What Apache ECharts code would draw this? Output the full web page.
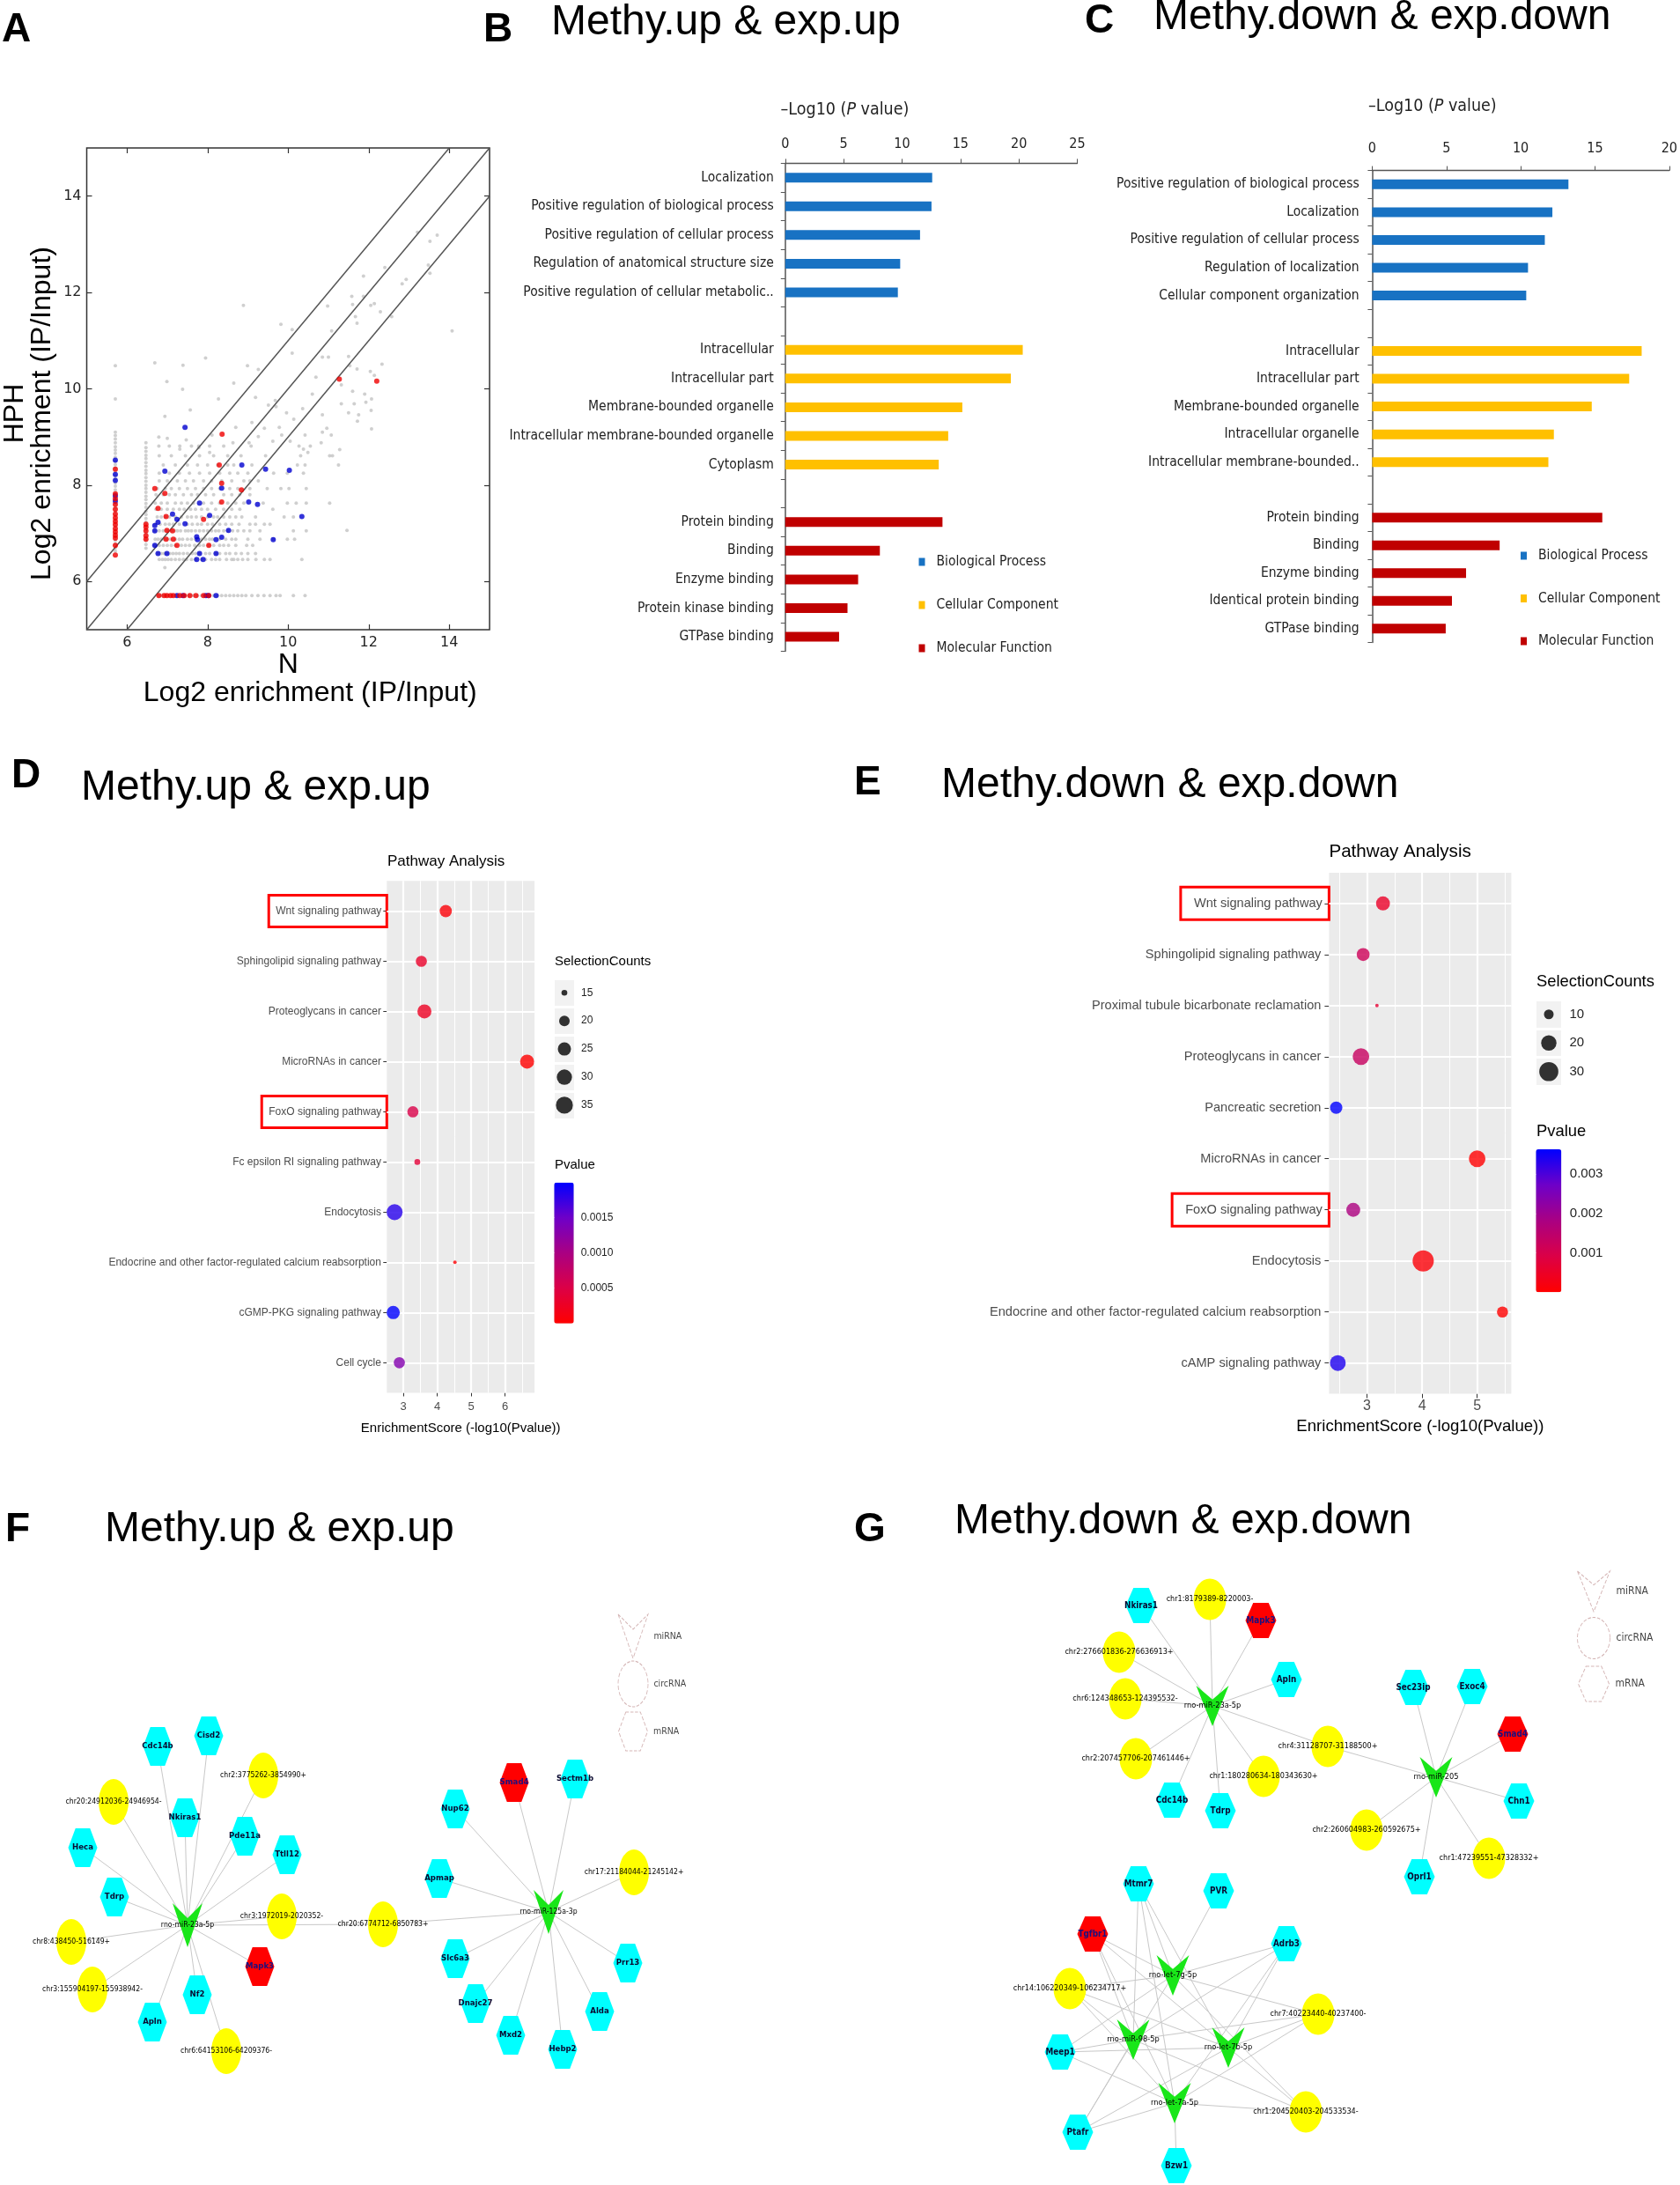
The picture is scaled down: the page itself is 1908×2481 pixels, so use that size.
<!DOCTYPE html>
<html>
<head>
<meta charset="utf-8">
<title>Figure</title>
<script src="https://cdn.jsdelivr.net/npm/echarts@6.0.0/dist/echarts.min.js"></script>
<style>
html,body{margin:0;padding:0;background:#ffffff;}
#chart{width:1908px;height:2481px;}
</style>
</head>
<body>
<div id="chart"></div>
<script>
// ================= DATA =================
// ---- Panel A: log2 enrichment, N (x) vs HPH (y) ----
const aTicks = [6, 8, 10, 12, 14];
const aColumnX = [5.71, 6.47];      // x of the two vertical stacks of points
const aFloorY = 5.71;               // y of the bottom row of points
const aGreyColumn1 = [6.63,6.7,6.78,6.85,6.93,7.0,7.08,7.16,7.23,7.3,7.38,7.46,7.53,7.6,7.68,7.76,7.83,7.9,7.98,8.05,8.13,8.2,8.28,8.36,8.43,8.5,8.58,8.66,8.73,8.8,8.88,8.96,9.03,9.1,9.79,10.48];
const aGreyColumn2 = [6.69,6.77,6.85,6.92,7.0,7.08,7.15,7.23,7.31,7.39,7.46,7.54,7.62,7.7,7.77,7.85,7.93,8.0,8.08,8.16,8.24,8.31,8.39,8.47,8.55,8.62,8.7,8.78,8.88];
const aGreyFloor = [6.78,6.85,6.92,7.0,7.08,7.15,7.25,7.35,7.45,7.55,7.65,7.75,7.85,7.95,8.05,8.15,8.25,8.35,8.45,8.55,8.65,8.75,8.85,8.95,9.1,9.25,9.4,9.55,9.7,9.8,10.13,10.42];
const aGreyRows = [
  [6.46, [6.8,6.88,6.95,7.02,7.1,7.2,7.3,7.4,7.48,7.6,7.7,7.85,7.95,8.1,8.2,8.3,8.47,8.6,8.65,8.75,8.87,9.0,9.2,9.41,9.55,10.34]],
  [6.58, [6.77,6.85,6.92,6.99,7.06,7.14,7.22,7.3,7.4,7.5,7.62,7.7,7.8,7.95,8.05,8.21,8.3,8.45,8.55,8.7,8.84,9.0,9.19]],
  [6.75, [6.7,6.8,6.9,7.0,7.1,7.2,7.35,7.45,7.55,7.68,7.8,7.9,8.03,8.15,8.3,8.4,8.52,8.7,8.97,9.12]],
  [6.88, [6.7,6.77,6.85,6.92,7.0,7.08,7.2,7.3,7.38,7.5,7.6,7.7,7.85,7.95,8.05,8.12,8.3,8.45,8.6,8.7,9.0,9.3,9.63,9.98,10.16]],
  [7.05, [6.7,6.8,6.9,7.0,7.1,7.18,7.25,7.33,7.45,7.52,7.6,7.7,7.8,7.9,8.0,8.1,8.2,8.28,8.4,8.5,8.62,8.75,8.9,9.05,9.3,10.13,10.45]],
  [7.19, [6.7,6.82,6.95,7.05,7.15,7.3,7.5,7.62,7.75,7.85,8.0,8.12,8.3,8.45,8.6,8.78,9.05,9.19,9.41,9.55]],
  [7.34, [6.75,6.85,6.95,7.05,7.2,7.35,7.5,7.6,7.72,7.85,8.0,8.15,8.25,8.4,8.55,8.7,8.85,9.19,9.9,10.13]],
  [7.5,  [6.72,6.85,7.0,7.15,7.3,7.42,7.58,7.7,7.85,8.0,8.2,8.4,8.6,8.8,9.62]],
  [7.63, [6.7,6.85,7.0,7.2,7.35,7.5,7.65,7.9,8.1,8.3,8.5,8.7,8.9,9.38,9.98,10.2,10.45,11.03]],
  [7.8,  [6.72,6.9,7.05,7.2,7.4,7.6,7.75,7.95,8.15,8.4,8.6,8.8,9.05]],
  [7.93, [6.75,6.95,7.1,7.3,7.5,7.7,7.9,8.1,8.3,8.55,8.75,9.05,9.48,9.82,10.02,10.45]],
  [8.09, [6.8,7.0,7.25,7.45,7.65,7.9,8.1,8.35,8.6,8.9,9.05,9.26]],
  [8.25, [6.8,7.05,7.3,7.55,7.8,8.05,8.3,8.55,8.75,9.0,9.64,9.98,10.38]],
  [8.42, [6.9,7.2,7.5,7.75,8.0,8.25,8.5,8.65,9.1,10.23,10.42,11.25]],
  [8.61, [6.8,7.1,7.45,7.8,8.15,8.5,8.83,9.44,10.31,11.03,11.1]],
  [8.81, [6.79,7.05,7.31,7.6,7.78,8.05,8.4,9.08,10.27,10.55]]
];
const aGreyScattered = [[6.79,9.0],[7.0,8.97],[7.47,8.94],[8.11,9.04],[8.63,8.88],[9.03,8.88],[9.26,9.01],[9.62,8.91],[9.84,9.04],[10.05,8.91],[10.38,8.75],[10.49,8.68],[10.82,8.88],[11.28,8.74],[10.42,9.04],[10.85,9.1],[10.96,9.18],[11.07,9.04],[9.41,9.18],[8.7,9.2],[9.1,9.3],[9.78,9.2],[10.14,9.37],[9.96,9.5],[9.7,9.63],[9.51,9.66],[9.68,9.76],[9.19,9.82],[8.27,9.79],[7.57,9.56],[6.94,9.43],[7.38,9.99],[6.99,10.15],[8.65,10.12],[10.36,9.59],[10.6,9.89],[10.69,10.24],[10.85,9.46],[11.32,9.69],[11.5,9.5],[11.72,9.33],[11.9,9.89],[11.93,9.72],[12.07,9.79],[12.06,9.55],[11.64,9.69],[11.75,9.46],[12.07,9.17],[11.6,9.95],[11.32,10.08],[11.53,10.48],[10.1,10.74],[10.85,10.66],[11.0,10.66],[11.5,10.67],[11.71,10.41],[12.04,10.36],[12.33,10.51],[12.14,10.28],[7.95,10.64],[8.99,10.48],[9.26,10.4],[6.69,10.54],[7.39,10.49],[8.89,11.73],[9.82,11.34],[10.1,11.23],[10.98,11.72],[11.08,11.2],[11.58,11.92],[11.71,11.36],[11.67,11.5],[11.6,11.75],[11.87,11.92],[11.87,12.34],[12.05,11.73],[12.14,11.77],[12.29,11.6],[12.57,11.5],[12.4,12.52],[12.83,12.18],[12.93,12.27],[13.21,13.25],[13.48,12.57],[13.52,12.4],[13.52,13.06],[13.7,13.19],[14.07,11.2],[11.46,7.06],[6.94,6.29],[8.05,8.68],[7.78,8.78],[7.31,8.75]];
const aRedColumn1 = [8.33,7.82,7.72,7.6,7.5,7.4,7.32,7.25,7.18,7.1,7.03,6.96,6.9,6.75,6.55];
const aRedColumn2 = [7.19,7.13,7.05,6.95,6.88];
const aRedFloor = [6.79,6.92,6.99,7.08,7.15,7.31,7.42,7.56,7.71,7.9,8.03];
const aRedOther = [[6.69,7.93],[6.94,7.83],[6.77,7.52],[6.97,7.35],[6.99,7.06],[6.97,6.88],[7.13,7.05],[7.15,6.88],[7.24,6.75],[8.29,8.42],[8.36,9.06],[8.35,8.04],[8.35,7.65],[7.9,7.29],[8.03,6.75],[8.84,7.9],[11.27,10.2],[12.2,10.16]];
const aBlueColumn1 = [8.52,8.22,8.1,7.78,7.67];
const aBlueFloor = [7.24,7.39,7.96,8.02,8.21];
const aBlueOther = [[7.44,9.2],[6.94,8.29],[8.85,8.42],[9.44,8.33],[10.03,8.31],[8.35,7.94],[7.8,7.63],[9.02,7.65],[9.24,7.6],[7.13,7.4],[8.05,7.37],[7.24,7.29],[7.44,7.2],[10.34,7.35],[8.52,7.06],[6.77,7.23],[6.69,7.16],[6.69,7.05],[7.73,6.93],[7.75,6.87],[8.21,6.87],[8.35,6.92],[9.63,6.87],[6.69,6.75],[6.77,6.58],[6.99,6.58],[8.21,6.58],[7.8,6.58],[7.73,6.46],[7.89,6.46]];
const aRefLines = [[[5, 6], [14, 15]], [[5, 5], [15, 15]], [[6, 5], [15, 14]]];

// ---- Panels B / C: GO enrichment ----
const GO_GROUPS = ['Biological Process', 'Cellular Component', 'Molecular Function'];
const bCats = ['Localization','Positive regulation of biological process','Positive regulation of cellular process','Regulation of anatomical structure size','Positive regulation of cellular metabolic..',' ','Intracellular','Intracellular part','Membrane-bounded organelle','Intracellular membrane-bounded organelle','Cytoplasm','  ','Protein binding','Binding','Enzyme binding','Protein kinase binding','GTPase binding'];
const bBP = [12.58, 12.52, 11.54, 9.84, 9.64];
const bCC = [20.33, 19.31, 15.16, 13.95, 13.14];
const bMF = [13.46, 8.1, 6.24, 5.33, 4.61];
const cCats = ['Positive regulation of biological process','Localization','Positive regulation of cellular process','Regulation of localization','Cellular component organization',' ','Intracellular','Intracellular part','Membrane-bounded organelle','Intracellular organelle','Intracellular membrane-bounded..','  ','Protein binding','Binding','Enzyme binding','Identical protein binding','GTPase binding'];
const cBP = [13.21, 12.13, 11.62, 10.49, 10.37];
const cCC = [18.14, 17.3, 14.78, 12.23, 11.86];
const cMF = [15.49, 8.58, 6.32, 5.37, 4.95];

// ---- Panels D / E: KEGG pathway bubble plots ----
const dPaths = ['Wnt signaling pathway','Sphingolipid signaling pathway','Proteoglycans in cancer','MicroRNAs in cancer','FoxO signaling pathway','Fc epsilon RI signaling pathway','Endocytosis','Endocrine and other factor-regulated calcium reabsorption','cGMP-PKG signaling pathway','Cell cycle'];
const dScore = [4.25, 3.53, 3.62, 6.65, 3.28, 3.41, 2.74, 4.52, 2.70, 2.88];
const dCount = [23, 21, 27, 27, 21, 15, 32, 14, 25, 21];
const dSizeBreaks = [15, 20, 25, 30, 35];
const dPBreaks = [0.0005, 0.001, 0.0015];
const dXTicks = [3, 4, 5, 6];
const dXMinor = [3.5, 4.5, 5.5, 6.5];
const ePaths = ['Wnt signaling pathway','Sphingolipid signaling pathway','Proximal tubule bicarbonate reclamation','Proteoglycans in cancer','Pancreatic secretion','MicroRNAs in cancer','FoxO signaling pathway','Endocytosis','Endocrine and other factor-regulated calcium reabsorption','cAMP signaling pathway'];
const eScore = [3.29, 2.93, 3.18, 2.89, 2.44, 5.0, 2.75, 4.02, 5.46, 2.47];
const eCount = [17, 15, 6, 23, 14, 23, 17, 37, 12, 21];
const eSizeBreaks = [10, 20, 30];
const ePBreaks = [0.001, 0.002, 0.003];
const eXTicks = [3, 4, 5];
const eXMinor = [2.5, 3.5, 4.5, 5.5];
const boxedPaths = ['Wnt signaling pathway', 'FoxO signaling pathway'];

// ---- Panels F / G: miRNA–circRNA–mRNA networks (layout coordinates) ----
// [name, type, x, y]  type: mi = miRNA, circ = circRNA, m = mRNA, mh = highlighted mRNA
const fNodes = [
  ['rno-miR-23a-5p','mi',173,386], ['rno-miR-125a-3p','mi',583,371],
  ['Cdc14b','m',139,183], ['Cisd2','m',197,171], ['chr2:3775262-3854990+','circ',259,216],
  ['chr20:24912036-24946954-','circ',89,246], ['Nkiras1','m',170,264], ['Pde11a','m',238,285],
  ['Ttll12','m',286,306], ['Heca','m',54,298], ['Tdrp','m',90,354], ['chr3:1972019-2020352-','circ',280,376],
  ['chr8:438450-516149+','circ',41,405], ['chr3:155904197-155938942-','circ',65,459], ['Mapk3','mh',255,433],
  ['Nf2','m',184,465], ['Apln','m',133,496], ['chr6:64153106-64209376-','circ',217,529],
  ['chr20:6774712-6850783+','circ',395,385],
  ['Smad4','mh',544,224], ['Sectm1b','m',613,220], ['Nup62','m',477,254], ['Apmap','m',459,333],
  ['chr17:21184044-21245142+','circ',680,326], ['Slc6a3','m',477,424], ['Prr13','m',673,429],
  ['Dnajc27','m',500,475], ['Alda','m',641,484], ['Mxd2','m',540,511], ['Hebp2','m',599,527]
];
const fLinks = [
  ['rno-miR-23a-5p', ['Cdc14b','Cisd2','chr2:3775262-3854990+','chr20:24912036-24946954-','Nkiras1','Pde11a','Ttll12','Heca','Tdrp','chr3:1972019-2020352-','chr8:438450-516149+','chr3:155904197-155938942-','Mapk3','Nf2','Apln','chr6:64153106-64209376-','chr20:6774712-6850783+']],
  ['rno-miR-125a-3p', ['chr20:6774712-6850783+','Smad4','Sectm1b','Nup62','Apmap','chr17:21184044-21245142+','Slc6a3','Prr13','Dnajc27','Alda','Mxd2','Hebp2']]
];
const fLegend = [['miRNA','mi',679,58], ['circRNA','circ',679,112], ['mRNA','m',679,166]];
const gNodes = [
  ['rno-miR-23a-5p','mi',377,157], ['Nkiras1','m',296,43], ['chr1:8179389-8220003-','circ',374,36],
  ['Mapk3','mh',432,60], ['chr2:276601836-276636913+','circ',271,96], ['Apln','m',461,127],
  ['chr6:124348653-124395532-','circ',278,149], ['chr2:207457706-207461446+','circ',290,217],
  ['Cdc14b','m',331,264], ['Tdrp','m',386,276], ['chr1:180280634-180343630+','circ',435,237],
  ['chr4:31128707-31188500+','circ',508,203],
  ['rno-miR-205','mi',631,238], ['Sec23ip','m',605,136], ['Exoc4','m',672,135], ['Smad4','mh',718,189],
  ['Chn1','m',725,265], ['chr2:260604983-260592675+','circ',552,298], ['chr1:47239551-47328332+','circ',691,330],
  ['Oprl1','m',612,351],
  ['Mtmr7','m',293,359], ['PVR','m',384,367], ['Tgfbr1','mh',241,416], ['Adrb3','m',461,427],
  ['rno-let-7g-5p','mi',332,463], ['chr14:106220349-106234717+','circ',215,478], ['chr7:40223440-40237400-','circ',497,507],
  ['rno-miR-98-5p','mi',287,536], ['Meep1','m',204,550], ['rno-let-7b-5p','mi',395,545],
  ['rno-let-7a-5p','mi',334,608], ['chr1:204520403-204533534-','circ',483,618], ['Ptafr','m',224,641], ['Bzw1','m',336,679]
];
const gShared = ['Mtmr7','Tgfbr1','Adrb3','chr14:106220349-106234717+','chr7:40223440-40237400-','Meep1','chr1:204520403-204533534-','Ptafr'];
const gLinks = [
  ['rno-miR-23a-5p', ['Nkiras1','chr1:8179389-8220003-','Mapk3','chr2:276601836-276636913+','Apln','chr6:124348653-124395532-','chr2:207457706-207461446+','Cdc14b','Tdrp','chr1:180280634-180343630+','chr4:31128707-31188500+']],
  ['rno-miR-205', ['Sec23ip','Exoc4','Smad4','Chn1','chr2:260604983-260592675+','chr1:47239551-47328332+','Oprl1','chr4:31128707-31188500+']],
  ['rno-let-7g-5p', gShared.concat(['PVR'])],
  ['rno-miR-98-5p', gShared],
  ['rno-let-7b-5p', gShared],
  ['rno-let-7a-5p', gShared.concat(['Bzw1'])]
];
const gLegend = [['miRNA','mi',810,27], ['circRNA','circ',810,80], ['mRNA','m',810,132]];

// ================= STYLE =================
const FONT = "'Liberation Sans', Arial, Helvetica, sans-serif";
const NARROW = "'Liberation Sans Narrow', 'Arial Narrow', 'DejaVu Sans Condensed', sans-serif";
const DEJAVU = "'DejaVu Sans', sans-serif";
const GO_COLORS = ['#1872c3', '#ffc000', '#c00000'];
const P_RAMP = ['#ff0000', '#dc0046', '#aa0082', '#6e00c8', '#0000ff'];
const HEX = 'path://M25,0 L75,0 L100,50 L75,100 L25,100 L0,50 Z';
const VEE = 'path://M0,0 L50,34 L100,0 L50,100 Z';
const GO_FS = 15.5;

const grids = [], xAxes = [], yAxes = [], series = [], titles = [], legends = [], visualMaps = [];
const addGrid = g => (grids.push(g), grids.length - 1);
const addX = a => (xAxes.push(a), xAxes.length - 1);
const addY = a => (yAxes.push(a), yAxes.length - 1);
const addTitle = (text, left, top, fs, extra) => titles.push(Object.assign({
  text, left, top, padding: 0,
  textStyle: Object.assign({fontFamily: FONT, fontSize: fs, lineHeight: fs, color: '#000', fontWeight: 'normal'}, extra || {})
}));

// ---- panel letters and titles ----
[['A',2,11],['B',549,11],['C',1232,1],['D',13,858],['E',970,866],['F',6,1714],['G',970,1714]]
  .forEach(([t,l,tp]) => addTitle(t, l, tp, 46, {fontWeight: 'bold'}));
[['Methy.up & exp.up',626,2],['Methy.down & exp.down',1310,-4],['Methy.up & exp.up',92,871],
 ['Methy.down & exp.down',1069,868],['Methy.up & exp.up',119,1713],['Methy.down & exp.down',1084,1704]]
  .forEach(([t,l,tp]) => addTitle(t, l, tp, 48));

// ================= PANEL A =================
(function () {
  const gi = addGrid({left: 94, top: 168, width: 462, height: 547, show: true, borderColor: '#333', borderWidth: 1.5, backgroundColor: '#fff'});
  const tick = {show: true, inside: true, length: 6, customValues: aTicks, lineStyle: {color: '#333', width: 1.2}};
  const xi = addX({type: 'value', gridIndex: gi, min: 5, max: 15, axisLine: {show: false}, splitLine: {show: false},
    axisTick: tick, axisLabel: {customValues: aTicks, fontFamily: DEJAVU, fontSize: 16, color: '#222', margin: 7},
    name: '{n|N}\n{l|Log2 enrichment (IP/Input)}', nameLocation: 'middle', nameGap: 24,
    nameTextStyle: {rich: {
      n: {fontFamily: FONT, fontSize: 32, lineHeight: 32, color: '#000'},
      l: {fontFamily: FONT, fontSize: 32, lineHeight: 32, color: '#000', padding: [0, 0, 0, 50]}}}});
  addX({type: 'value', gridIndex: gi, position: 'top', min: 5, max: 15, axisLine: {show: false}, splitLine: {show: false},
    axisTick: tick, axisLabel: {show: false}});
  const yi = addY({type: 'value', gridIndex: gi, min: 5, max: 15, axisLine: {show: false}, splitLine: {show: false},
    axisTick: tick, axisLabel: {customValues: aTicks, fontFamily: DEJAVU, fontSize: 16, color: '#222', margin: 6},
    name: 'HPH\nLog2 enrichment (IP/Input)', nameLocation: 'middle', nameRotate: 90, nameGap: 35,
    nameTextStyle: {fontFamily: FONT, fontSize: 32, lineHeight: 31, color: '#000', padding: [0, 56, 0, 0]}});
  addY({type: 'value', gridIndex: gi, position: 'right', min: 5, max: 15, axisLine: {show: false}, splitLine: {show: false},
    axisTick: tick, axisLabel: {show: false}});

  const grey = [].concat(
    aGreyColumn1.map(y => [aColumnX[0], y]),
    aGreyColumn2.map(y => [aColumnX[1], y]),
    aGreyFloor.map(x => [x, aFloorY]),
    ...aGreyRows.map(([y, xs]) => xs.map(x => [x, y])),
    aGreyScattered);
  const red = [].concat(aRedColumn1.map(y => [aColumnX[0], y]), aRedColumn2.map(y => [aColumnX[1], y]),
    aRedFloor.map(x => [x, aFloorY]), aRedOther);
  const blue = [].concat(aBlueColumn1.map(y => [aColumnX[0], y]), aBlueFloor.map(x => [x, aFloorY]), aBlueOther);
  series.push({type: 'scatter', xAxisIndex: xi, yAxisIndex: yi, data: grey, symbolSize: 4, itemStyle: {color: '#c3c3c3'}, silent: true, z: 2});
  aRefLines.forEach(l => series.push({type: 'line', xAxisIndex: xi, yAxisIndex: yi, data: l, symbol: 'none', showSymbol: false,
    lineStyle: {color: '#555', width: 1.5}, silent: true, z: 3}));
  series.push({type: 'scatter', xAxisIndex: xi, yAxisIndex: yi, data: blue, symbolSize: 6, itemStyle: {color: '#0000d0'}, silent: true, z: 4});
  series.push({type: 'scatter', xAxisIndex: xi, yAxisIndex: yi, data: red, symbolSize: 6, itemStyle: {color: '#f00000'}, silent: true, z: 5});
})();

// ================= PANELS B / C =================
function goPanel(p) {
  const gi = addGrid({left: p.grid[0], top: p.grid[1], width: p.grid[2], height: p.grid[3], show: false});
  const xi = addX({type: 'value', gridIndex: gi, position: 'top', min: 0, max: p.xMax, interval: 5,
    axisLine: {show: true, lineStyle: {color: '#555', width: 1.3}}, axisTick: {show: true, length: 5, lineStyle: {color: '#555'}},
    axisLabel: {fontFamily: NARROW, fontSize: 16, color: '#222', margin: p.tickMargin}, splitLine: {show: false}});
  const yi = addY({type: 'category', gridIndex: gi, inverse: true, data: p.cats,
    axisLine: {show: true, lineStyle: {color: '#555', width: 1.5}},
    axisTick: {show: true, length: 5, interval: 0, lineStyle: {color: '#555'}},
    axisLabel: {interval: 0, fontFamily: NARROW, fontSize: GO_FS, color: '#222', margin: p.labelMargin}, splitLine: {show: false}});
  p.groups.forEach((vals, g) => {
    const start = p.starts[g];
    const data = p.cats.map((_, i) => (i >= start && i < start + vals.length) ? vals[i - start] : '-');
    series.push({type: 'bar', name: GO_GROUPS[g], xAxisIndex: xi, yAxisIndex: yi, data, barWidth: 11, barGap: '-100%',
      itemStyle: {color: GO_COLORS[g]}, silent: true, z: 3});
  });
  legends.push({orient: 'vertical', left: p.legend[0], top: p.legend[1], itemWidth: 7, itemHeight: 9, itemGap: p.legend[2],
    icon: 'rect', padding: 0, selectedMode: false, data: GO_GROUPS,
    textStyle: {fontFamily: NARROW, fontSize: GO_FS, lineHeight: 20, color: '#222', padding: [0, 0, 0, 8]}});
  addTitle('–Log10 ({i|P} value)', p.title[0], p.title[1], 19.5,
    {fontFamily: NARROW, color: '#222', rich: {i: {fontFamily: NARROW, fontSize: 19.5, fontStyle: 'italic', color: '#222'}}});
}
goPanel({grid: [891.8, 185.4, 331.7, 554], xMax: 25, cats: bCats, groups: [bBP, bCC, bMF], starts: [0, 6, 12],
  tickMargin: 14, labelMargin: 13, legend: [1043.5, 628, 29], title: [886.6, 115]});
goPanel({grid: [1558.4, 193.6, 340, 536], xMax: 20, cats: cCats, groups: [cBP, cCC, cMF], starts: [0, 6, 12],
  tickMargin: 17, labelMargin: 14.7, legend: [1727, 621, 28.5], title: [1554, 111]});

// ================= PANELS D / E =================
function pathwayPanel(p) {
  const gi = addGrid({left: p.grid[0], top: p.grid[1], width: p.grid[2], height: p.grid[3], show: true, backgroundColor: '#ebebeb', borderWidth: 0});
  const rows = p.labels.map((_, i) => i + 1);
  const xi = addX({type: 'value', gridIndex: gi, min: p.xRange[0], max: p.xRange[1], axisLine: {show: false}, splitLine: {show: false},
    axisTick: {show: true, customValues: p.xTicks, length: p.tick, lineStyle: {color: '#333'}},
    axisLabel: {customValues: p.xTicks, fontFamily: FONT, fontSize: p.fs.tick, color: '#4d4d4d', margin: p.tickMargin},
    name: 'EnrichmentScore (-log10(Pvalue))', nameLocation: 'middle', nameGap: p.nameGap,
    nameTextStyle: {fontFamily: FONT, fontSize: p.fs.axis, color: '#000'}});
  const yi = addY({type: 'value', gridIndex: gi, min: 0.4, max: p.labels.length + 0.6, inverse: true,
    axisLine: {show: false}, splitLine: {show: false},
    axisTick: {show: true, customValues: rows, length: p.tick, lineStyle: {color: '#333'}},
    axisLabel: {customValues: rows, margin: 0,
      formatter: v => { const nm = p.labels[Math.round(v) - 1]; return boxedPaths.indexOf(nm) >= 0 ? '{box|' + nm + '}' : '{n|' + nm + '}'; },
      rich: {
        n: {fontFamily: FONT, fontSize: p.fs.cat, color: '#4d4d4d', padding: [0, p.labelPad, 0, 0]},
        box: {fontFamily: FONT, fontSize: p.fs.cat, color: '#4d4d4d', padding: p.boxPad, borderColor: '#ff0000', borderWidth: 3}
      }}});
  // panel grid lines (major / minor)
  series.push({type: 'scatter', xAxisIndex: xi, yAxisIndex: yi, data: [[p.xTicks[0], 1]], symbolSize: 0, silent: true, z: 1,
    markLine: {silent: true, symbol: ['none', 'none'], label: {show: false}, z: 1,
      data: [].concat(
        p.xMinor.map(v => ({xAxis: v, lineStyle: {color: '#ffffff', width: 1, type: 'solid'}})),
        p.xTicks.map(v => ({xAxis: v, lineStyle: {color: '#ffffff', width: 2.2, type: 'solid'}})),
        rows.map(v => ({yAxis: v, lineStyle: {color: '#ffffff', width: 2.2, type: 'solid'}})))}});
  const pts = p.scores.map((s, i) => [s, i + 1, Math.pow(10, -s), p.counts[i]]);
  const pMax = Math.max.apply(null, pts.map(d => d[2]));
  const si = series.length;
  series.push({type: 'scatter', xAxisIndex: xi, yAxisIndex: yi, data: pts, symbolSize: d => p.size(d[3]), silent: true, z: 10});
  visualMaps.push({type: 'continuous', seriesIndex: si, dimension: 2, min: 0, max: pMax, inRange: {color: P_RAMP},
    orient: 'vertical', left: p.cbar[0], top: p.cbar[1], itemWidth: p.cbar[2], itemHeight: p.cbar[3],
    calculable: false, padding: 0, hoverLink: false, realtime: false});
  // size legend
  const lg = addGrid({left: p.key[0], top: p.key[1], width: p.key[2], height: p.key[3], show: true, backgroundColor: '#f2f2f2', borderWidth: 0});
  const lx = addX({type: 'value', gridIndex: lg, min: -1, max: 1, show: false});
  const ly = addY({type: 'category', gridIndex: lg, inverse: true, position: 'right', data: p.breaks.map(String),
    axisLine: {show: false}, axisTick: {show: false},
    axisLabel: {fontFamily: FONT, fontSize: p.fs.legend, color: '#222', margin: p.legendMargin},
    splitLine: {show: true, interval: 0, lineStyle: {color: '#ffffff', width: 3}}});
  series.push({type: 'scatter', xAxisIndex: lx, yAxisIndex: ly, data: p.breaks.map((b, i) => [0, i, b]),
    symbolSize: d => p.size(d[2]), itemStyle: {color: '#000'}, silent: true, z: 10});
  // colour bar labels
  const cg = addGrid({left: p.cbar[0], top: p.cbar[1], width: p.cbar[2], height: p.cbar[3], show: false});
  addX({type: 'value', gridIndex: cg, min: 0, max: 1, show: false});
  addY({type: 'value', gridIndex: cg, min: 0, max: pMax, position: 'right', z: 10, axisLine: {show: false}, splitLine: {show: false},
    axisTick: {show: true, inside: true, length: p.cbar[2] / 5, customValues: p.pBreaks, lineStyle: {color: '#ffffff'}},
    axisLabel: {customValues: p.pBreaks, formatter: v => v.toFixed(p.pDigits), fontFamily: FONT, fontSize: p.fs.legend, color: '#222', margin: p.legendMargin}});
  addTitle('Pathway Analysis', p.tPath[0], p.tPath[1], p.fs.title);
  addTitle('SelectionCounts', p.tSel[0], p.tSel[1], p.fs.legTitle);
  addTitle('Pvalue', p.tP[0], p.tP[1], p.fs.legTitle);
}
pathwayPanel({grid: [439.3, 1000.3, 167.8, 581.2], xRange: [2.51, 6.87], xTicks: dXTicks, xMinor: dXMinor,
  labels: dPaths, scores: dScore, counts: dCount, breaks: dSizeBreaks, pBreaks: dPBreaks, pDigits: 4,
  size: c => 4 * (1 + 5 * Math.sqrt(Math.max(0, c - 14.4) / 35.2)),
  fs: {cat: 12, tick: 13, axis: 15, legend: 12, title: 17, legTitle: 15}, tick: 4, tickMargin: 9, nameGap: 33,
  labelPad: 6.4, boxPad: [12, 6, 12, 8], key: [630, 1111.3, 22, 159.6], cbar: [629.3, 1342.7, 22.4, 160], legendMargin: 8,
  tPath: [440, 969.5], tSel: [630, 1084], tP: [630, 1315.8]});
pathwayPanel({grid: [1509.4, 991, 207, 591.5], xRange: [2.31, 5.62], xTicks: eXTicks, xMinor: eXMinor,
  labels: ePaths, scores: eScore, counts: eCount, breaks: eSizeBreaks, pBreaks: ePBreaks, pDigits: 3,
  size: c => 4 * (1 + 5 * Math.sqrt(Math.max(0, c - 6.3) / 30.4)),
  fs: {cat: 14.6, tick: 16, axis: 18.6, legend: 15, title: 20.6, legTitle: 18.4}, tick: 5, tickMargin: 6, nameGap: 28,
  labelPad: 9, boxPad: [11, 7.5, 11, 15], key: [1745, 1135.5, 28, 97.5], cbar: [1744.3, 1305, 29, 162.3], legendMargin: 9.5,
  tPath: [1509.4, 957.4], tSel: [1745, 1105.8], tP: [1745, 1275.8]});

// ================= PANELS F / G =================
function netPanel(p) {
  const gi = addGrid({left: p.grid[0], top: p.grid[1], width: p.grid[2], height: p.grid[3], show: false});
  const xi = addX({type: 'value', gridIndex: gi, min: 0, max: p.grid[2], show: false});
  const yi = addY({type: 'value', gridIndex: gi, min: 0, max: p.grid[3], inverse: true, show: false});
  const sym = {mi: VEE, circ: 'circle', m: HEX, mh: HEX};
  const fill = {mi: '#19e619', circ: '#ffff00', m: '#00ffff', mh: '#ff0000'};
  const nodeLabel = t => {
    if (t === 'm') return {fontFamily: NARROW, fontSize: p.fs.gene, fontWeight: 'bold', color: '#0a0a30'};
    if (t === 'mh') return {fontFamily: NARROW, fontSize: p.fs.gene, fontWeight: 'bold', color: '#1a1080'};
    if (t === 'circ') return {fontFamily: NARROW, fontSize: p.fs.circ, color: '#000'};
    return {fontFamily: NARROW, fontSize: p.fs.mi, color: '#000'};
  };
  series.push({type: 'graph', coordinateSystem: 'cartesian2d', xAxisIndex: xi, yAxisIndex: yi, layout: 'none', silent: true, z: 3,
    data: p.nodes.map(([name, t, x, y]) => ({name, value: [x, y], symbol: sym[t], symbolSize: p.size[t],
      itemStyle: {color: fill[t]}, label: Object.assign({show: true, position: 'inside'}, nodeLabel(t))})),
    links: [].concat(...p.links.map(([s, ts]) => ts.map(t => ({source: s, target: t})))),
    lineStyle: {color: '#c8c8c8', width: 1, opacity: 1, curveness: 0},
    label: {show: true, position: 'inside'}});
  series.push({type: 'scatter', xAxisIndex: xi, yAxisIndex: yi, silent: true, z: 3,
    data: p.legend.map(([name, t, x, y]) => ({value: [x, y], symbol: sym[t], symbolSize: p.size[t],
      itemStyle: {color: 'rgba(0,0,0,0)', borderColor: '#c9a3a3', borderWidth: 1, borderType: 'dashed'},
      label: {show: true, position: 'right', distance: p.legDist, formatter: name, fontFamily: NARROW, fontSize: p.fs.legend, color: '#111'}}))});
}
netPanel({grid: [40, 1800, 800, 600], nodes: fNodes, links: fLinks, legend: fLegend,
  size: {mi: [34, 50], circ: [34, 52], m: [33, 44], mh: [33, 44]}, fs: {gene: 9.5, circ: 8.6, mi: 8.6, legend: 10.5}, legDist: 6});
netPanel({grid: [1000, 1780, 908, 700], nodes: gNodes, links: gLinks, legend: gLegend,
  size: {mi: [37, 46], circ: [37, 47], m: [35, 40], mh: [35, 40]}, fs: {gene: 9.8, circ: 9, mi: 9.2, legend: 12}, legDist: 6.5});

// ================= RENDER =================
const chart = echarts.init(document.getElementById('chart'), null, {renderer: 'canvas', width: 1908, height: 2481});
chart.setOption({
  backgroundColor: '#ffffff',
  animation: false,
  textStyle: {fontFamily: FONT},
  title: titles,
  legend: legends,
  grid: grids,
  xAxis: xAxes,
  yAxis: yAxes,
  visualMap: visualMaps,
  series: series
});
</script>
</body>
</html>
